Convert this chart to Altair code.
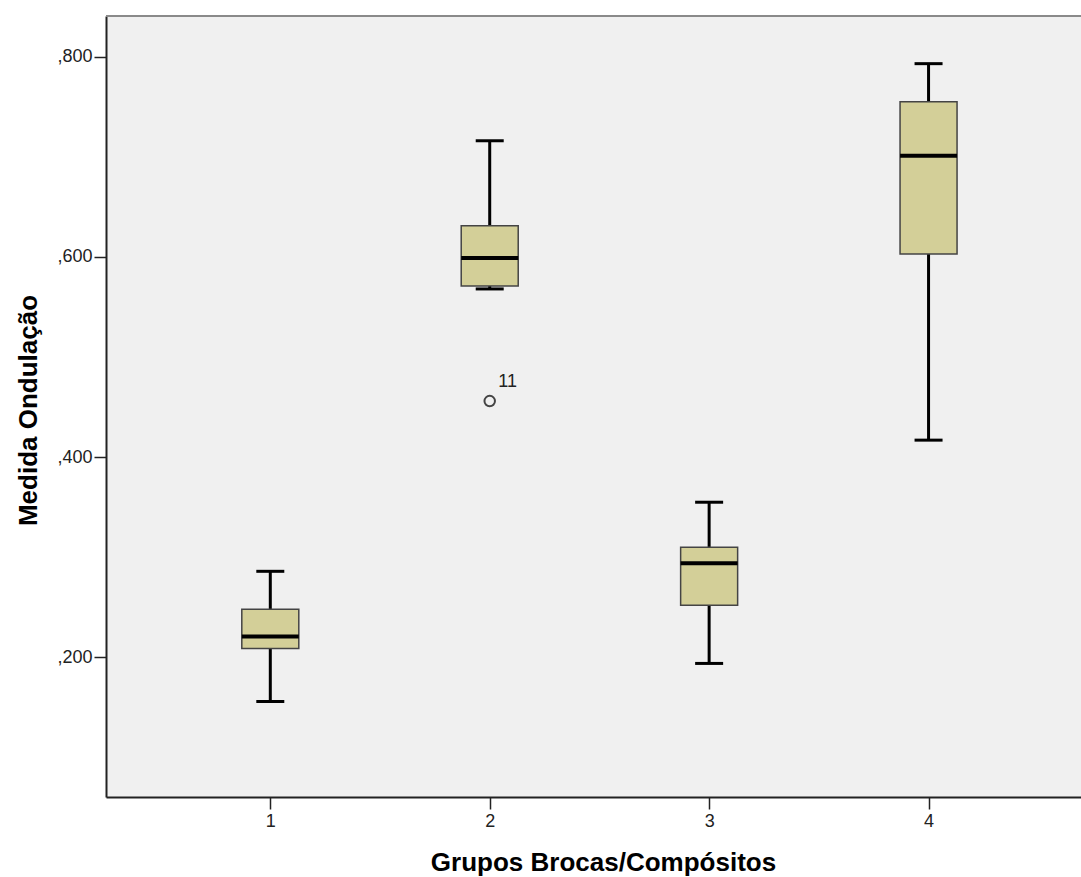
import altair as alt
import pandas as pd

# Five-number summaries per drill/composite group
groups = [1, 2, 3, 4]
whisker_low = [0.156, 0.568, 0.194, 0.417]
q1 = [0.209, 0.571, 0.252, 0.603]
median = [0.221, 0.599, 0.294, 0.701]
q3 = [0.248, 0.631, 0.310, 0.755]
whisker_high = [0.286, 0.716, 0.355, 0.793]

# Outlying case
outlier_group = [2]
outlier_value = [0.456]
outlier_case = ["11"]

tick_labels = [1, 2, 3, 4]
y_ticks = [0.2, 0.4, 0.6, 0.8]

summary = pd.DataFrame({
    "grupo": groups,
    "lo": whisker_low,
    "q1": q1,
    "med": median,
    "q3": q3,
    "hi": whisker_high,
})
outliers = pd.DataFrame({"grupo": outlier_group, "valor": outlier_value, "caso": outlier_case})

W, H = 975, 781
FONT = "Liberation Sans"
BOX_FILL = "#d3cf98"

x_scale = alt.Scale(domain=[0.274, 4.672], nice=False, zero=False)
y_scale = alt.Scale(domain=[0.0606, 0.8406], nice=False, zero=False)

x_axis = alt.Axis(
    values=tick_labels, format="d",
    title="Grupos Brocas/Compósitos",
    titleX=497, titleY=52, titleAlign="center", titleBaseline="top",
)
y_axis = alt.Axis(
    values=y_ticks,
    labelExpr="replace(format(datum.value, '.3f'), '0.', ',')",
    title="Medida Ondulação",
    titleX=-91, titleY=394, titleAngle=270, titleAlign="center", titleBaseline="top",
)


def xq():
    return alt.X("grupo:Q", scale=x_scale, axis=x_axis)


def yq(field):
    return alt.Y(f"{field}:Q", scale=y_scale, axis=y_axis)


base = alt.Chart(summary)

whiskers = base.mark_rule(color="#000", strokeWidth=3).encode(
    x=xq(), y=yq("lo"), y2="hi"
)
cap_low = base.mark_tick(orient="horizontal", size=28, thickness=3, color="#000", opacity=1).encode(
    x=xq(), y=yq("lo")
)
cap_high = base.mark_tick(orient="horizontal", size=28, thickness=3, color="#000", opacity=1).encode(
    x=xq(), y=yq("hi")
)
boxes = base.mark_bar(size=57, fill=BOX_FILL, stroke="#444", strokeWidth=1.5).encode(
    x=xq(), y=yq("q1"), y2="q3"
)
medians = base.mark_tick(orient="horizontal", size=57, thickness=4, color="#000", opacity=1).encode(
    x=xq(), y=yq("med")
)

out_base = alt.Chart(outliers)
out_points = out_base.mark_point(
    shape="circle", filled=False, size=110, stroke="#444", strokeWidth=2, opacity=1
).encode(x=xq(), y=yq("valor"))
out_labels = out_base.mark_text(
    dx=18, dy=-19, font=FONT, fontSize=18, color="#222", align="center", baseline="middle"
).encode(x=xq(), y=yq("valor"), text="caso:N")

top_border = alt.Chart(alt.Data(values=[{}])).mark_rule(color="#8a8a8a", strokeWidth=2).encode(
    x=alt.value(0), x2=alt.value(W), y=alt.value(0)
)

chart = (
    alt.layer(whiskers, cap_low, cap_high, boxes, medians, out_points, out_labels, top_border)
    .properties(
        width=W, height=H,
        autosize=alt.AutoSizeParams(type="none"),
        padding={"left": 106, "top": 16, "right": 0, "bottom": 80},
        background="#ffffff",
    )
    .configure_view(fill="#f0f0f0", stroke="transparent")
    .configure_axis(
        grid=False, ticks=True,
        tickSize=12, tickColor="#222", tickWidth=1.5,
        domainColor="#222", domainWidth=2,
        labelFont=FONT, labelFontSize=18, labelColor="#222",
        titleFont=FONT, titleFontSize=26, titleFontWeight="bold", titleColor="#000",
    )
    .configure_axisX(labelPadding=3)
    .configure_axisY(labelPadding=2)
)

chart.save("out.html", embed_options={"renderer": "svg", "actions": False})
